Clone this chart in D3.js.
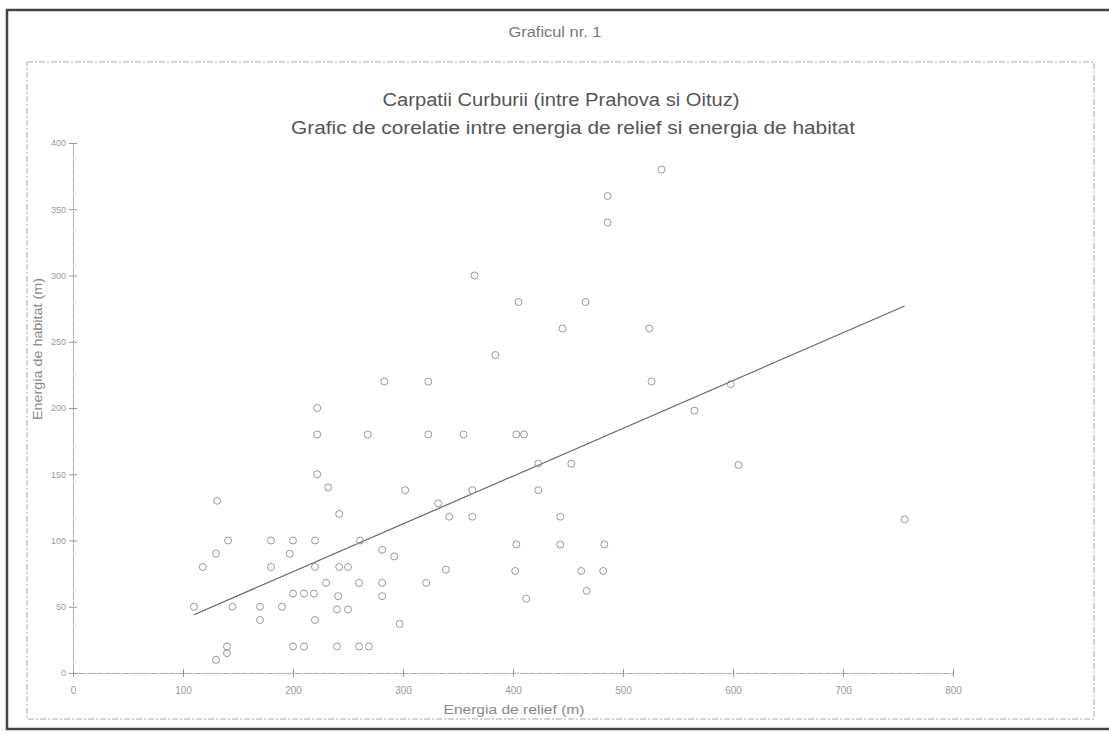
<!DOCTYPE html>
<html>
<head>
<meta charset="utf-8">
<script src="https://cdn.jsdelivr.net/npm/d3@7"></script>
<style>
  body { margin: 0; background: #fff; }
  text { font-family: "Liberation Sans", Arial, sans-serif; }
</style>
</head>
<body>
<script>
// values
const reliefVals = [110, 118, 131, 130, 141, 145, 130, 140, 140, 170, 170, 180, 180, 190, 197, 200, 200, 210, 219, 200,
  210, 220, 220, 220, 222, 222, 222, 232, 230, 242, 242, 250, 241, 240, 250, 240, 260, 260, 268, 323,
  355, 403, 410, 423, 453, 302, 332, 363, 423, 342, 363, 443, 261, 281, 292, 403, 443, 339, 402, 462,
  281, 321, 467, 281, 412, 297, 269, 535, 486, 486, 365, 405, 466, 445, 524, 384, 323, 526, 283, 598,
  565, 605, 756, 483, 482];
const habitatVals = [50, 80, 130, 90, 100, 50, 10, 20, 15, 50, 40, 100, 80, 50, 90, 100, 60, 60, 60, 20,
  20, 40, 100, 80, 150, 180, 200, 140, 68, 120, 80, 80, 58, 48, 48, 20, 20, 68, 180, 180,
  180, 180, 180, 158, 158, 138, 128, 138, 138, 118, 118, 118, 100, 93, 88, 97, 97, 78, 77, 77,
  68, 68, 62, 58, 56, 37, 20, 380, 360, 340, 300, 280, 280, 260, 260, 240, 220, 220, 220, 218,
  198, 157, 116, 97, 77];
const trendX = [110, 756];
const trendY = [44, 277];
const xTicks = [0, 100, 200, 300, 400, 500, 600, 700, 800];
const yTicks = [0, 50, 100, 150, 200, 250, 300, 350, 400];

const W = 1109, H = 736;
const svg = d3.select("body").append("svg")
    .attr("width", W)
    .attr("height", H);

// outer frame of the page + dashed chart area
svg.append("rect").attr("x", 7).attr("y", 10).attr("width", 1110).attr("height", 719)
    .attr("fill", "none").attr("stroke", "#444").attr("stroke-width", 2.5);
svg.append("rect").attr("x", 27).attr("y", 62).attr("width", 1067).attr("height", 657)
    .attr("fill", "none").attr("stroke", "#aaa").attr("stroke-width", 1)
    .attr("stroke-dasharray", "6,2,2,2");

svg.append("text").attr("x", 555).attr("y", 37).attr("text-anchor", "middle")
    .attr("font-size", 14).attr("fill", "#777")
    .attr("textLength", 93).attr("lengthAdjust", "spacingAndGlyphs")
    .text("Graficul nr. 1");
svg.append("text").attr("x", 561).attr("y", 106).attr("text-anchor", "middle")
    .attr("font-size", 18).attr("fill", "#555")
    .attr("textLength", 357).attr("lengthAdjust", "spacingAndGlyphs")
    .text("Carpatii Curburii (intre Prahova si Oituz)");
svg.append("text").attr("x", 573).attr("y", 134).attr("text-anchor", "middle")
    .attr("font-size", 18).attr("fill", "#555")
    .attr("textLength", 564).attr("lengthAdjust", "spacingAndGlyphs")
    .text("Grafic de corelatie intre energia de relief si energia de habitat");

var x = d3.scaleLinear().domain([0, 800]).range([73, 953]);
var y = d3.scaleLinear().domain([0, 400]).range([673, 143]);

var gx = svg.append("g").attr("transform", "translate(0," + y(0) + ")")
    .call(d3.axisBottom(x).tickValues(xTicks).tickSize(4).tickPadding(10));
var gy = svg.append("g").attr("transform", "translate(" + x(0) + ",0)")
    .call(d3.axisLeft(y).tickValues(yTicks).tickSize(4).tickPadding(3));

[gx, gy].forEach(function(g) {
  g.select(".domain").attr("stroke", "#aaa").attr("stroke-dasharray", "5,1,2,1");
  g.selectAll(".tick line").attr("stroke", "#999");
  g.selectAll(".tick text").attr("fill", "#999").attr("font-family", "Liberation Sans, Arial, sans-serif");
});
gx.selectAll(".tick text").attr("font-size", 10);
gy.selectAll(".tick text").attr("font-size", 9);
// crossing ticks
gx.selectAll(".tick line").attr("y1", -4);
gy.selectAll(".tick line").attr("x1", 4);

svg.append("text").attr("x", 514).attr("y", 714).attr("text-anchor", "middle")
    .attr("font-size", 13).attr("fill", "#888")
    .attr("textLength", 141).attr("lengthAdjust", "spacingAndGlyphs")
    .text("Energia de relief (m)");
svg.append("text").attr("transform", "translate(42,349) rotate(-90)").attr("text-anchor", "middle")
    .attr("font-size", 13).attr("fill", "#888")
    .attr("textLength", 142).attr("lengthAdjust", "spacingAndGlyphs")
    .text("Energia de habitat (m)");

// regression line
var line = d3.line().x(function(d) { return x(d[0]); }).y(function(d) { return y(d[1]); });
svg.append("path").datum(d3.zip(trendX, trendY))
    .attr("d", line).attr("fill", "none").attr("stroke", "#666").attr("stroke-width", 1.2);

// points
svg.append("g").selectAll("circle")
    .data(d3.zip(reliefVals, habitatVals))
  .enter().append("circle")
    .attr("cx", function(d) { return x(d[0]); })
    .attr("cy", function(d) { return y(d[1]); })
    .attr("r", 3.5)
    .attr("fill", "none")
    .attr("stroke", "#999")
    .attr("stroke-width", 1);
</script>
</body>
</html>
